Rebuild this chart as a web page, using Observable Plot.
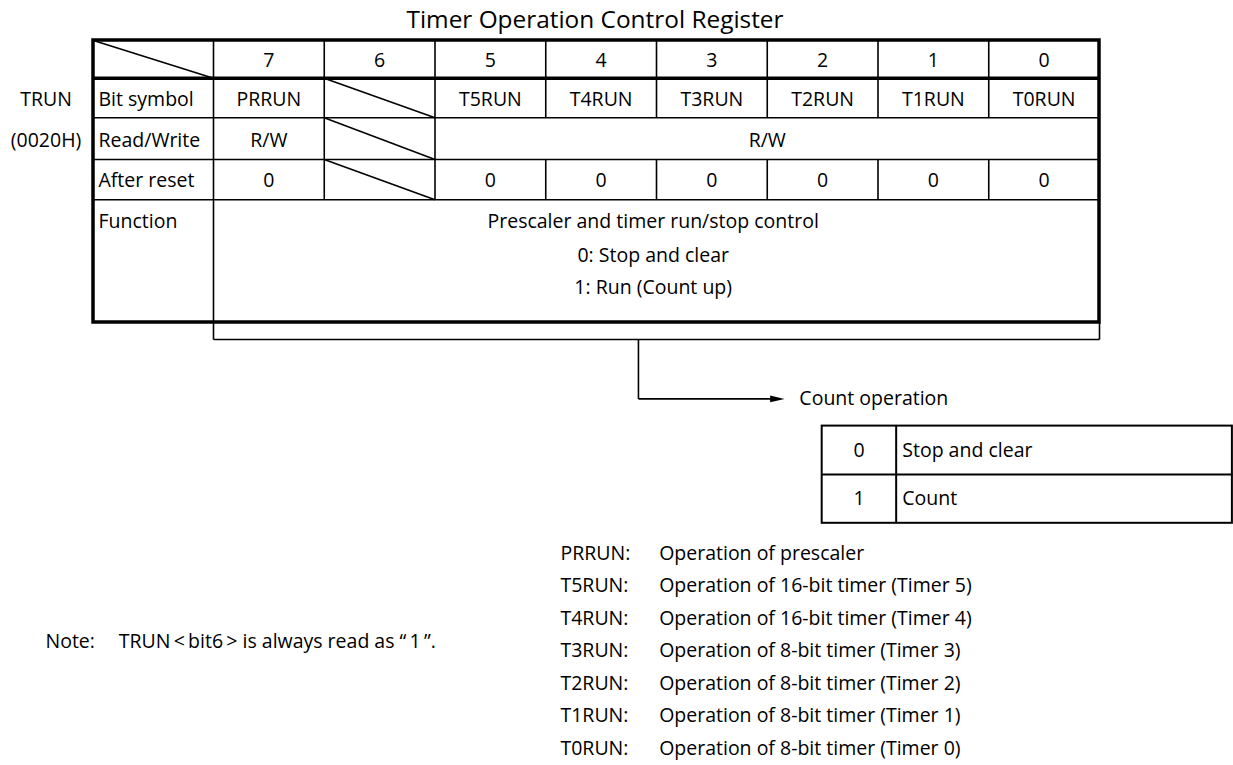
<!DOCTYPE html>
<html><head><meta charset="utf-8">
<script src="https://cdn.jsdelivr.net/npm/d3@7"></script>
<script src="https://cdn.jsdelivr.net/npm/@observablehq/plot@0.6"></script>
<style>
body{margin:0;background:#fff;}
#title{height:32px;width:1190px;text-align:center;font-family:'Open Sans',sans-serif;font-size:24.4px;line-height:38px;color:#000;white-space:nowrap;}
</style></head><body>
<div id="title"></div>
<div id="chart"></div>
<script>
// ---------- data ----------
const titleText = "Timer Operation Control Register";
const registerName = "TRUN";
const registerAddress = "(0020H)";
const bits = [7, 6, 5, 4, 3, 2, 1, 0];
const rowLabels = ["Bit symbol", "Read/Write", "After reset", "Function"];
const bitSymbols = ["PRRUN", "", "T5RUN", "T4RUN", "T3RUN", "T2RUN", "T1RUN", "T0RUN"];
const unusedBits = [6];
const rwLabels = ["R/W", "R/W"];
const rwFrom = [7, 5];
const rwTo = [7, 0];
const afterReset = ["0", "", "0", "0", "0", "0", "0", "0"];
const functionLines = ["Prescaler and timer run/stop control", "0: Stop and clear", "1: Run (Count up)"];
const countTitle = "Count operation";
const countValues = ["0", "1"];
const countMeanings = ["Stop and clear", "Count"];
const symbolNames = ["PRRUN:", "T5RUN:", "T4RUN:", "T3RUN:", "T2RUN:", "T1RUN:", "T0RUN:"];
const symbolMeanings = [
  "Operation of prescaler",
  "Operation of 16-bit timer (Timer 5)",
  "Operation of 16-bit timer (Timer 4)",
  "Operation of 8-bit timer (Timer 3)",
  "Operation of 8-bit timer (Timer 2)",
  "Operation of 8-bit timer (Timer 1)",
  "Operation of 8-bit timer (Timer 0)"
];
const noteLabel = "Note:";
const noteText = "TRUN\u2009<\u2009bit6\u2009> is always read as \u201C\u20091\u2009\u201D.";

// ---------- layout (column units / row units) ----------
const LABEL_W = 1.0835;                 // width of the label column in bit-column units
const rowEdges = [0, 0.943, 1.933, 2.975, 3.983, 7.05]; // header, symbol, r/w, reset, function
const headerY = 0.5;
const rowTextY = [1.475, 2.5, 3.5, 4.53];
const funcY = [4.53, 5.375, 6.18];
const funcX = 3.97;
const bracketY = 7.475;
const stemX = 3.837;
const arrowY = 8.96;
const arrowTipX = 5.156;
const countTitleX = 5.29;
const boxX = [5.496, 6.164, 9.2];
const boxY = [9.64, 10.85, 12.07];
const listX = [3.133, 4.024];
const listY0 = 12.83, listStep = 0.8125;
const noteX = [-1.517, -0.855], noteY = 15.03;
const regX = -1.512;
const FS = 19.5;

const col = b => 7 - b; // left edge of bit b

// ---------- derived line segments ----------
const thin = [];
[rowEdges[2], rowEdges[3], rowEdges[4]].forEach(y => thin.push({x1: -LABEL_W, y1: y, x2: 8, y2: y}));
thin.push({x1: 0, y1: rowEdges[0], x2: 0, y2: rowEdges[5]});
const rwGroup = bits.map(b => {
  const k = rwFrom.findIndex((f, i) => b <= f && b >= rwTo[i]);
  return k < 0 ? "u" + b : "g" + k;
});
const rowGroups = [bits.map(String), bits.map(String), rwGroup, bits.map(String)];
rowGroups.forEach((g, r) => {
  for (let k = 1; k < 8; k++) if (g[k - 1] !== g[k]) thin.push({x1: k, y1: rowEdges[r], x2: k, y2: rowEdges[r + 1]});
});
thin.push({x1: -LABEL_W, y1: rowEdges[0], x2: 0, y2: rowEdges[1]});
unusedBits.forEach(b => {
  for (let r = 1; r <= 3; r++) thin.push({x1: col(b), y1: rowEdges[r], x2: col(b) + 1, y2: rowEdges[r + 1]});
});
const bracket = [
  {x1: 0, y1: rowEdges[5], x2: 0, y2: bracketY},
  {x1: 0, y1: bracketY, x2: 8, y2: bracketY},
  {x1: 8, y1: rowEdges[5], x2: 8, y2: bracketY},
  {x1: stemX, y1: bracketY, x2: stemX, y2: arrowY},
  {x1: stemX, y1: arrowY, x2: arrowTipX - 0.1, y2: arrowY}
];
const head = [[arrowTipX, arrowY], [arrowTipX - 0.13, arrowY - 0.085], [arrowTipX - 0.13, arrowY + 0.085]];
const thick = [{x1: -LABEL_W, y1: rowEdges[1], x2: 8, y2: rowEdges[1]}];
const boxLines = [
  {x1: boxX[0], y1: boxY[1], x2: boxX[2], y2: boxY[1]},
  {x1: boxX[1], y1: boxY[0], x2: boxX[1], y2: boxY[2]}
];

document.getElementById("title").textContent = titleText;

const chart = Plot.plot({
  width: 1233,
  height: 733,
  margin: 0,
  x: {type: "linear", domain: [-LABEL_W, 8], range: [93, 1099], axis: null},
  y: {type: "linear", domain: [0, 18], range: [8, 728], axis: null},
  style: {fontFamily: "'Open Sans', sans-serif", color: "#000", background: "#fff", overflow: "visible"},
  marks: [
    Plot.link(thin, {x1: "x1", y1: "y1", x2: "x2", y2: "y2", stroke: "#000", strokeWidth: 1.6}),
    Plot.link(bracket, {x1: "x1", y1: "y1", x2: "x2", y2: "y2", stroke: "#000", strokeWidth: 1.6}),
    Plot.line(head, {fill: "#000", stroke: "none"}),
    Plot.link(thick, {x1: "x1", y1: "y1", x2: "x2", y2: "y2", stroke: "#000", strokeWidth: 3.5}),
    Plot.rect([0], {x1: -LABEL_W, x2: 8, y1: rowEdges[0], y2: rowEdges[5], fill: "none", stroke: "#000", strokeWidth: 3.5}),
    Plot.rect([0], {x1: boxX[0], x2: boxX[2], y1: boxY[0], y2: boxY[2], fill: "none", stroke: "#000", strokeWidth: 2}),
    Plot.link(boxLines, {x1: "x1", y1: "y1", x2: "x2", y2: "y2", stroke: "#000", strokeWidth: 2}),
    Plot.text(bits, {x: b => col(b) + 0.5, y: headerY, text: b => String(b), fontSize: FS}),
    Plot.text([registerName, registerAddress], {x: regX, y: (d, i) => rowTextY[i], text: d => d, fontSize: FS}),
    Plot.text(rowLabels, {x: -LABEL_W + 0.045, y: (d, i) => rowTextY[i], text: d => d, textAnchor: "start", fontSize: FS}),
    Plot.text(bits.filter((b, i) => bitSymbols[i]), {x: b => col(b) + 0.5, y: rowTextY[0], text: b => bitSymbols[bits.indexOf(b)], fontSize: FS}),
    Plot.text(rwLabels, {x: (d, i) => (col(rwFrom[i]) + col(rwTo[i]) + 1) / 2, y: rowTextY[1], text: d => d, fontSize: FS}),
    Plot.text(bits.filter((b, i) => afterReset[i]), {x: b => col(b) + 0.5, y: rowTextY[2], text: b => afterReset[bits.indexOf(b)], fontSize: FS}),
    Plot.text(functionLines, {x: funcX, y: (d, i) => funcY[i], text: d => d, fontSize: FS}),
    Plot.text([countTitle], {x: countTitleX, y: arrowY, text: d => d, textAnchor: "start", fontSize: FS}),
    Plot.text(countValues, {x: (boxX[0] + boxX[1]) / 2, y: (d, i) => (boxY[i] + boxY[i + 1]) / 2, text: d => d, fontSize: FS}),
    Plot.text(countMeanings, {x: boxX[1] + 0.055, y: (d, i) => (boxY[i] + boxY[i + 1]) / 2, text: d => d, textAnchor: "start", fontSize: FS}),
    Plot.text(symbolNames, {x: listX[0], y: (d, i) => listY0 + i * listStep, text: d => d, textAnchor: "start", fontSize: FS}),
    Plot.text(symbolMeanings, {x: listX[1], y: (d, i) => listY0 + i * listStep, text: d => d, textAnchor: "start", fontSize: FS}),
    Plot.text([noteLabel, noteText], {x: (d, i) => noteX[i], y: noteY, text: d => d, textAnchor: "start", fontSize: FS})
  ]
});
document.getElementById("chart").append(chart);
</script>
</body></html>
